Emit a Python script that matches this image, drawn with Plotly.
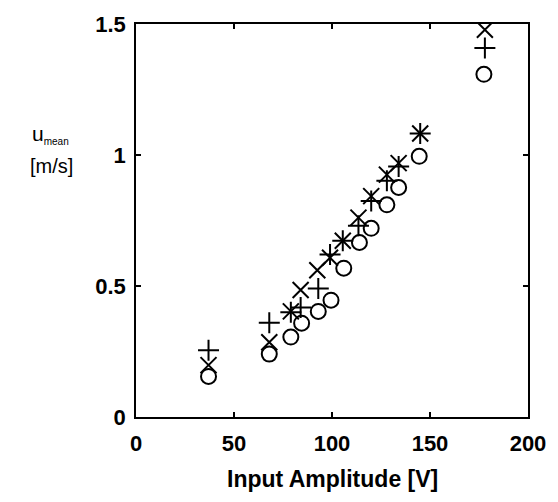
import plotly.graph_objects as go

# Input amplitude [V] and mean velocity [m/s] for three data sets
x_circle = [37, 68, 79, 84.5, 93, 99.5, 106, 114, 120, 128, 134, 144.5, 177.5]
y_circle = [0.155, 0.24, 0.305, 0.358, 0.403, 0.446, 0.568, 0.666, 0.72, 0.81, 0.876, 0.995, 1.308]

x_plus = [37, 68, 79, 84, 93, 99, 105.5, 113.5, 120, 128, 134, 145, 178]
y_plus = [0.255, 0.36, 0.40, 0.418, 0.49, 0.62, 0.673, 0.73, 0.824, 0.902, 0.956, 1.082, 1.408]

x_cross = [37, 68, 79, 84, 92.5, 99, 105.5, 113.5, 120, 128, 134, 145, 178]
y_cross = [0.198, 0.285, 0.403, 0.485, 0.56, 0.608, 0.673, 0.761, 0.843, 0.925, 0.969, 1.082, 1.478]

x_ticks = [0, 50, 100, 150, 200]
y_ticks = [0, 0.5, 1, 1.5]
y_ticktext = ["0", "0.5", "1", "1.5"]

FONT = "Liberation Sans, Arial, sans-serif"

fig = go.Figure()
fig.add_trace(go.Scatter(x=x_circle, y=y_circle, mode="markers",
                         marker=dict(symbol="circle-open", size=15, color="black",
                                     line=dict(width=2, color="black"))))
fig.add_trace(go.Scatter(x=x_plus, y=y_plus, mode="markers",
                         marker=dict(symbol="cross-thin-open", size=15, color="black",
                                     line=dict(width=2, color="black"))))
fig.add_trace(go.Scatter(x=x_cross, y=y_cross, mode="markers",
                         marker=dict(symbol="x-thin-open", size=16, color="black",
                                     line=dict(width=2, color="black"))))

axis_common = dict(showline=True, linecolor="black", linewidth=1.5, mirror="ticks",
                   ticks="inside", ticklen=5, tickwidth=1.5, tickcolor="black",
                   showgrid=False, zeroline=False,
                   tickfont=dict(family=FONT, size=22, color="black", weight="bold"))

fig.update_layout(
    width=558, height=502,
    margin=dict(l=136, r=22, t=19, b=85),
    paper_bgcolor="white", plot_bgcolor="white",
    showlegend=False,
    font=dict(family=FONT, color="black"),
    xaxis=dict(range=[0, 200], tickvals=x_ticks, ticklabelstandoff=6, **axis_common),
    yaxis=dict(range=[0, 1.5], tickvals=y_ticks, ticktext=y_ticktext, ticklabelstandoff=4, **axis_common),
)

fig.add_annotation(text="Input Amplitude [V]", xref="paper", yref="paper",
                   x=0.5, y=0, yshift=-62, showarrow=False,
                   font=dict(family=FONT, size=23, color="black", weight="bold"), yanchor="middle")
fig.add_annotation(text="u<sub><span style='font-size:10px'>mean</span></sub>", xref="paper", yref="paper",
                   x=(28 - 136) / 400, y=(417 - 131) / 398, showarrow=False, xanchor="left",
                   font=dict(family=FONT, size=21, color="black"), yanchor="middle")
fig.add_annotation(text="[m/s]", xref="paper", yref="paper",
                   x=(50 - 136) / 400, y=(417 - 163) / 398, showarrow=False, xanchor="center",
                   font=dict(family=FONT, size=20, color="black"), yanchor="middle")

fig.write_html("out.html")
